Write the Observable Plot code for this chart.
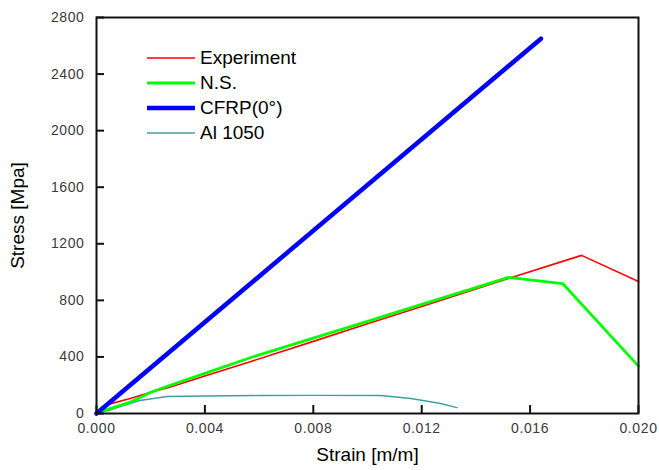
<!DOCTYPE html>
<html>
<head>
<meta charset="utf-8">
<script src="https://cdn.jsdelivr.net/npm/d3@7"></script>
<script src="https://cdn.jsdelivr.net/npm/@observablehq/plot@0.6"></script>
<style>
  body { margin: 0; background: #fff; font-family: "Liberation Sans", Arial, sans-serif; }
  #wrap { position: relative; width: 659px; height: 470px; }
  #legend { position: absolute; left: 147px; top: 45px; font-size: 19px; color: #000; }
  .row { display: flex; align-items: center; height: 25px; }
  .sw { width: 48px; margin-right: 5px; }
  .tk text { letter-spacing: 0.6px; }
</style>
</head>
<body>
<div id="wrap"><div id="legend"></div></div>
<script>
// Series data (strain in m/m, stress in MPa)
const expStrain = [0, 0.0005, 0.00125, 0.002, 0.0027, 0.004, 0.0057, 0.008, 0.010, 0.012, 0.014, 0.0152, 0.0179, 0.020];
const expStress = [15, 68, 106, 150, 185, 265, 368, 510, 634, 757, 881, 955, 1118, 933];

const nsStrain = [0, 0.0005, 0.00125, 0.002, 0.0027, 0.004, 0.0057, 0.008, 0.010, 0.012, 0.014, 0.0152, 0.0172, 0.020];
const nsStress = [0, 35, 80, 150, 198, 284, 396, 533, 652, 771, 890, 962, 919, 335];

const cfrpStrain = [0, 0.0164];
const cfrpStress = [0, 2650];

const alStrain = [0, 0.0005, 0.0009, 0.0016, 0.0026, 0.004, 0.006, 0.008, 0.0105, 0.0116, 0.0127, 0.0133];
const alStress = [0, 25, 50, 92, 120, 124, 127, 128, 127, 106, 71, 42];

const seriesNames = ["Experiment", "N.S.", "CFRP(0°)", "Al 1050"];
const seriesColors = ["#ff0000", "#00ff00", "#0000ff", "#3fa0a0"];
const seriesWidths = [1.6, 2.8, 4.5, 1.4];

const xTicks = [0, 0.004, 0.008, 0.012, 0.016, 0.020];
const yTicks = [0, 400, 800, 1200, 1600, 2000, 2400, 2800];

const toRows = (xs, ys) => xs.map((x, i) => ({x, y: ys[i]}));
const allSeries = [
  toRows(expStrain, expStress),
  toRows(nsStrain, nsStress),
  toRows(cfrpStrain, cfrpStress),
  toRows(alStrain, alStress)
];
const drawOrder = [3, 0, 1, 2];

const W = 659, H = 470, mL = 96, mR = 21, mT = 17, mB = 57;
const innerW = W - mL - mR, innerH = H - mT - mB, tickLen = 8;

const chart = Plot.plot({
  width: W,
  height: H,
  marginLeft: mL,
  marginRight: mR,
  marginTop: mT,
  marginBottom: mB,
  style: {fontFamily: '"Liberation Sans", Arial, sans-serif', background: "#fff"},
  x: {domain: [0, 0.02]},
  y: {domain: [0, 2800]},
  marks: [
    ...drawOrder.map(i => Plot.line(allSeries[i], {x: "x", y: "y", stroke: seriesColors[i], strokeWidth: seriesWidths[i]})),
    Plot.tickX(xTicks, {x: d => d, insetTop: innerH - tickLen, stroke: "#111", strokeWidth: 2}),
    Plot.tickY(yTicks, {y: d => d, insetRight: innerW - tickLen, stroke: "#111", strokeWidth: 2}),
    Plot.frame({stroke: "#111", strokeWidth: 2}),
    Plot.axisX({ticks: xTicks, tickFormat: d3.format(".3f"), tickSize: 0, tickPadding: 10, fontSize: 14, label: null, color: "#3a3a3a", className: "tk"}),
    Plot.axisY({ticks: yTicks, tickFormat: d => String(d), tickSize: 0, tickPadding: 12, fontSize: 14, label: null, color: "#3a3a3a", className: "tk"}),
    Plot.text(["Strain [m/m]"], {frameAnchor: "bottom", lineAnchor: "middle", dy: 41, fontSize: 19, fill: "#000"}),
    Plot.text(["Stress [Mpa]"], {frameAnchor: "left", textAnchor: "middle", lineAnchor: "middle", dx: -79, rotate: -90, fontSize: 19, fill: "#000"})
  ]
});
const wrap = document.getElementById("wrap");
wrap.insertBefore(chart, wrap.firstChild);

const legend = document.getElementById("legend");
seriesNames.forEach((name, i) => {
  const row = document.createElement("div");
  row.className = "row";
  row.innerHTML = `<svg class="sw" width="48" height="8"><line x1="0" y1="4" x2="48" y2="4" stroke="${seriesColors[i]}" stroke-width="${seriesWidths[i]}"/></svg><span>${name}</span>`;
  legend.appendChild(row);
});
</script>
</body>
</html>
